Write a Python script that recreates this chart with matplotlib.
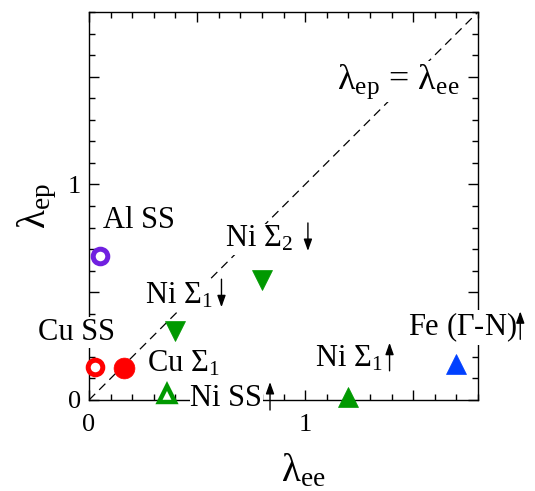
import matplotlib
matplotlib.use("Agg")
import matplotlib.pyplot as plt
from matplotlib.ticker import MultipleLocator, FuncFormatter

plt.rcParams['font.family'] = ['Liberation Serif', 'DejaVu Sans']
plt.rcParams['mathtext.fontset'] = 'custom'
plt.rcParams['mathtext.rm'] = 'Liberation Serif'
plt.rcParams['mathtext.it'] = 'Liberation Serif:italic'
plt.rcParams['mathtext.bf'] = 'Liberation Serif:bold'

# data
names = ["Al SS", "Cu SS", "Cu Σ1", "Ni SS↑", "Ni Σ1↓", "Ni Σ2↓", "Ni Σ1↑", "Fe (Γ-N)↑"]
lam_ee = [0.05, 0.03, 0.16, 0.36, 0.40, 0.80, 1.20, 1.70]
lam_ep = [0.67, 0.155, 0.148, 0.03, 0.32, 0.556, 0.012, 0.168]
markers = ["o", "o", "o", "^", "v", "v", "^", "^"]
colors = ["#7020e0", "#ff0000", "#ff0000", "#009900", "#009900", "#009900", "#009900", "#0040ff"]
filled = [False, False, True, False, True, True, True, True]

labels = [r"Al SS", r"Cu SS", r"Cu $\Sigma_1$", r"Ni SS", r"Ni $\Sigma_1$",
          r"Ni $\Sigma_2$", r"Ni $\Sigma_1$", r"Fe ($\Gamma$-N)"]
spin = [None, None, None, "up", "down", "down", "up", "up"]
label_x = [0.065, -0.236, 0.27, 0.468, 0.259, 0.63, 1.046, 1.478]
label_y = [0.80, 0.278, 0.131, -0.028, 0.449, 0.71, 0.154, 0.30]
arrow_gap = [0, 0, 0, 8, 9, 15, 7, 3]  # px after text

fig = plt.figure(figsize=(5.35, 4.91), dpi=100)
ax = fig.add_axes([89/535, 1-400/491, (478-89)/535, (400-12)/491])
ax.set_xlim(0, 1.8)
ax.set_ylim(0, 1.8)

ax.plot([0, 1.8], [0, 1.8], ls=(0, (7, 4.5)), color='black', lw=0.9, zorder=1)

for x, y, m, c, f in zip(lam_ee, lam_ep, markers, colors, filled):
    if m == "o":
        if f:
            ax.plot([x], [y], marker='o', ms=15, mfc=c, mec=c, mew=0.5, ls='none',
                    zorder=6, clip_on=False)
        else:
            ax.plot([x], [y], marker='o', ms=10.5, mfc='white', mec=c, mew=3.6, ls='none',
                    zorder=6, clip_on=False)
    else:
        if f:
            ax.plot([x], [y], marker=m, ms=14.5, mfc=c, mec=c, mew=0.5, ls='none',
                    zorder=6, clip_on=False)
        else:
            ax.plot([x], [y], marker=m, ms=11.5, mfc='white', mec=c, mew=3.2, ls='none',
                    zorder=6, clip_on=False)

texts = []
for t, x, y in zip(labels, label_x, label_y):
    tx = ax.text(x, y, t, fontsize=22, ha='left', va='baseline', zorder=4, clip_on=False,
                 bbox=dict(facecolor='white', edgecolor='none', pad=0.5))
    texts.append(tx)

ax.text(1.148, 1.444, r"λ$_{\rm ep}$ = λ$_{\rm ee}$", fontsize=26, ha='left', va='baseline',
        zorder=4, bbox=dict(facecolor='white', edgecolor='none', pad=1))

ax.xaxis.set_major_locator(MultipleLocator(0.5))
ax.yaxis.set_major_locator(MultipleLocator(0.5))
ax.xaxis.set_minor_locator(MultipleLocator(0.1))
ax.yaxis.set_minor_locator(MultipleLocator(0.1))
fmt = FuncFormatter(lambda v, p: f"{int(round(v))}" if abs(v - round(v)) < 1e-6 else "")
ax.xaxis.set_major_formatter(fmt)
ax.yaxis.set_major_formatter(fmt)
ax.tick_params(which='both', direction='in', top=True, right=True, width=1.0, labelsize=19)
ax.tick_params(which='major', length=7.5)
ax.tick_params(axis='x', which='major', pad=10)
ax.tick_params(axis='y', which='major', pad=6)
ax.tick_params(which='minor', length=4.3)
for s in ax.spines.values():
    s.set_linewidth(1.0)

ax.set_xlabel(r"λ$_{\rm ee}$", fontsize=28)
ax.xaxis.set_label_coords(0.55, -0.135)
ax.set_ylabel(r"λ$_{\rm ep}$", fontsize=28, labelpad=6)

# spin arrows after the labels
fig.canvas.draw()
renderer = fig.canvas.get_renderer()
for tx, sp, gap, x, y in zip(texts, spin, arrow_gap, label_x, label_y):
    if sp is None:
        continue
    bb = tx.get_window_extent(renderer)
    base = ax.transData.transform((x, y))[1]
    ax_x = bb.x1 + gap
    lo, hi = base - 4, base + 24
    if sp == "up":
        start, end = (ax_x, lo), (ax_x, hi)
    else:
        start, end = (ax_x, hi), (ax_x, lo)
    fig.patches.append(matplotlib.patches.FancyArrowPatch(
        start, end, transform=None, arrowstyle='-|>,head_length=7,head_width=2.5',
        mutation_scale=1, lw=1.0, color='black', shrinkA=0, shrinkB=0, zorder=7))

fig.savefig("out.png", dpi=100)
